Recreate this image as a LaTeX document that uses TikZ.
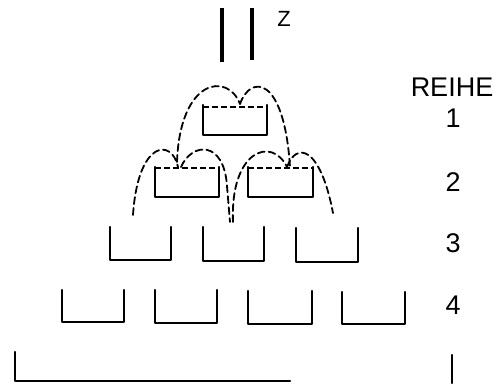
\documentclass[tikz,border=0pt]{standalone}
\usepackage{fontspec}
\setmainfont{Liberation Sans}
\begin{document}
\begin{tikzpicture}[x=1pt,y=-1pt,
  wall/.style={line width=2.2pt,line cap=round,line join=round},
  bar/.style={line width=3.2pt},
  lid/.style={line width=1.9pt,dash pattern=on 6pt off 3pt},
  arc/.style={line width=1.8pt,dash pattern=on 7pt off 4pt,line cap=round},
  lbl/.style={inner sep=0pt,font=\fontsize{27}{27}\selectfont},
  zlbl/.style={inner sep=0pt,font=\fontsize{22}{22}\selectfont}]
\useasboundingbox (0,0) rectangle (502,383);
% incoming bars
\draw[bar] (222,8) -- (222,62);
\draw[bar] (252,8) -- (252,60);
\node[zlbl] (z) at (284,19) {Z};
% row 1 box
\draw[wall] (203,105) -- (203,135) -- (267,135) -- (267,105);
\draw[lid] (203,107) -- (267,107);
% row 2 boxes
\draw[wall] (155,167) -- (155,197) -- (219,197) -- (219,167);
\draw[lid] (155,168) -- (219,168);
\draw[wall] (248,167) -- (248,197) -- (313,197) -- (313,167);
\draw[lid] (248,168) -- (313,168);
% dashed arcs row 1
\draw[arc] (177,162) .. controls (180,78) and (228,72) .. (240,104);
\draw[arc] (240,104) .. controls (250,75) and (284,74) .. (290,167);
% dashed arcs row 2 left
\draw[arc] (133,215) .. controls (138,140) and (172,138) .. (178,167);
\draw[arc] (181,167) .. controls (192,142) and (224,140) .. (227,186) -- (230,222);
% dashed arcs row 2 right
\draw[arc] (233,222) .. controls (230,150) and (272,136) .. (287,167);
\draw[arc] (287,167) .. controls (296,142) and (320,145) .. (333,213);
% row 3
\draw[wall] (110,227) -- (110,260) -- (171,260) -- (171,227);
\draw[wall] (203,227) -- (203,261) -- (264,261) -- (264,227);
\draw[wall] (296,228) -- (296,262) -- (358,262) -- (358,228);
% row 4
\draw[wall] (62,290) -- (62,322) -- (124,322) -- (124,290);
\draw[wall] (155,290) -- (155,323) -- (217,323) -- (217,290);
\draw[wall] (248,291) -- (248,324) -- (312,324) -- (312,291);
\draw[wall] (342,292) -- (342,324) -- (405,324) -- (405,292);
% bottom
\draw[wall] (15,352) -- (15,381) -- (290,381);
\draw[wall] (452,355) -- (452,383);
% labels
\node[lbl] (reihe) at (452,87) {REIHE};
\node[lbl] (r1) at (453,118) {1};
\node[lbl] (r2) at (453,182) {2};
\node[lbl] (r3) at (453,243) {3};
\node[lbl] (r4) at (453,305) {4};
\end{tikzpicture}
\end{document}
